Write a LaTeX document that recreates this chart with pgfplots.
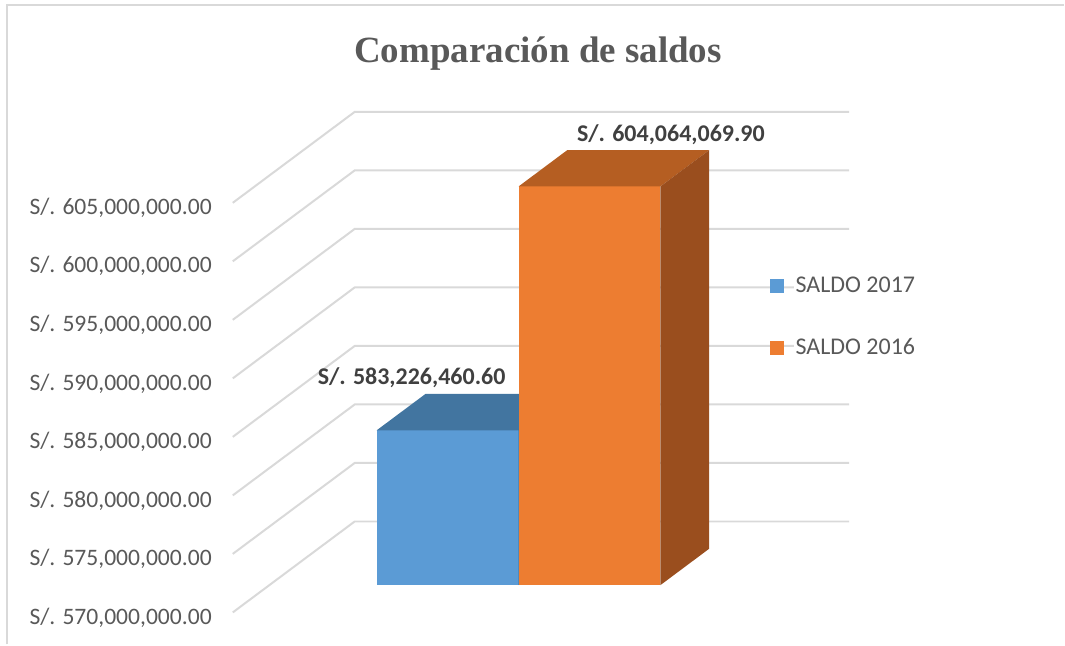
\documentclass[border=0pt]{standalone}
\usepackage{pgfplots}
\pgfplotsset{compat=1.18}
\usepackage{fontspec}
\setmainfont{Carlito}
\newfontfamily\titlefont{Liberation Serif}
\definecolor{gridc}{HTML}{D9D9D9}
\definecolor{textc}{HTML}{595959}
\definecolor{labc}{HTML}{404040}
\definecolor{bfront}{HTML}{5B9BD5}
\definecolor{btop}{HTML}{4275A0}
\definecolor{bside}{HTML}{3A6890}
\definecolor{ofront}{HTML}{ED7D31}
\definecolor{otop}{HTML}{B55E22}
\definecolor{oside}{HTML}{9A4E1E}
\begin{document}
\begin{tikzpicture}
\begin{axis}[
  x={(0.5pt,0pt)}, y={(61pt,45.5pt)}, z={(0pt,5.857pt)},
  xmin=233, xmax=728, ymin=0, ymax=1, zmin=570, zmax=605,
  clip=false,
  axis line style={draw=none},
  major tick length=0pt,
  xtick=\empty, ytick=\empty,
  ztick={570,575,...,605},
  zticklabels={{S/. 570,000,000.00},{S/. 575,000,000.00},{S/. 580,000,000.00},{S/. 585,000,000.00},{S/. 590,000,000.00},{S/. 595,000,000.00},{S/. 600,000,000.00},{S/. 605,000,000.00}},
  ticklabel style={font=\fontsize{11.8}{14}\selectfont, text=textc},
  zticklabel style={anchor=east, xshift=-7pt, yshift=-2.5pt},
  legend style={at={(axis cs:770,0,598.94)}, anchor=north west, draw=none, fill=none,
    inner sep=0pt, row sep=19pt, column sep=5pt,
    font=\fontsize{12}{14}\selectfont, text=textc,
    nodes={fill=white, inner sep=1pt, text height=8pt, text depth=2pt}},
  legend cell align=left,
  legend image code/.code={\fill[#1] (0pt,-3.5pt) rectangle (7pt,3.5pt);},
]
% background / page
\path (axis cs:0,0,567.268) rectangle (axis cs:1065,0,622.33);
\draw[gridc, line width=1pt] (axis cs:7,0,567.268) -- (axis cs:7,0,621.86) -- (axis cs:1065,0,621.86);
% grid lines (left wall and back wall)
\pgfplotsinvokeforeach{570,575,...,605}{
  \draw[gridc, line width=1pt] (axis cs:233,0,#1) -- (axis cs:233,1,#1) -- (axis cs:728,1,#1);
}
% SALDO 2017
\addplot3[fill=bfront, draw=none, mark=none] coordinates {(340.4,0.3,570) (482.4,0.3,570) (482.4,0.3,583.2264606) (340.4,0.3,583.2264606)} -- cycle;
\addlegendentry{SALDO 2017}
\addplot3[fill=btop, draw=none, mark=none, forget plot] coordinates {(340.4,0.3,583.2264606) (482.4,0.3,583.2264606) (482.4,0.7,583.2264606) (340.4,0.7,583.2264606)} -- cycle;
\addplot3[fill=bside, draw=none, mark=none, forget plot] coordinates {(482.4,0.3,570) (482.4,0.7,570) (482.4,0.7,583.2264606) (482.4,0.3,583.2264606)} -- cycle;
% SALDO 2016
\addplot3[fill=ofront, draw=none, mark=none] coordinates {(482.4,0.3,570) (624.4,0.3,570) (624.4,0.3,604.0640699) (482.4,0.3,604.0640699)} -- cycle;
\addlegendentry{SALDO 2016}
\addplot3[fill=otop, draw=none, mark=none, forget plot] coordinates {(482.4,0.3,604.0640699) (624.4,0.3,604.0640699) (624.4,0.7,604.0640699) (482.4,0.7,604.0640699)} -- cycle;
\addplot3[fill=oside, draw=none, mark=none, forget plot] coordinates {(624.4,0.3,570) (624.4,0.7,570) (624.4,0.7,604.0640699) (624.4,0.3,604.0640699)} -- cycle;
% data labels
\node[anchor=base, font=\fontsize{12}{14}\selectfont\bfseries, text=labc, yshift=4.5pt] at (axis cs:326.6,0.7,583.2264606) {S/. 583,226,460.60};
\node[anchor=base, font=\fontsize{12}{14}\selectfont\bfseries, text=labc, yshift=4.2pt] at (axis cs:586.1,0.7,604.0640699) {S/. 604,064,069.90};
% title
\node[anchor=base, font=\titlefont\fontsize{18.5}{22}\selectfont\bfseries, text=textc] at (axis cs:538.5,0,616.95) {Comparación de saldos};
\end{axis}
\end{tikzpicture}
\end{document}
